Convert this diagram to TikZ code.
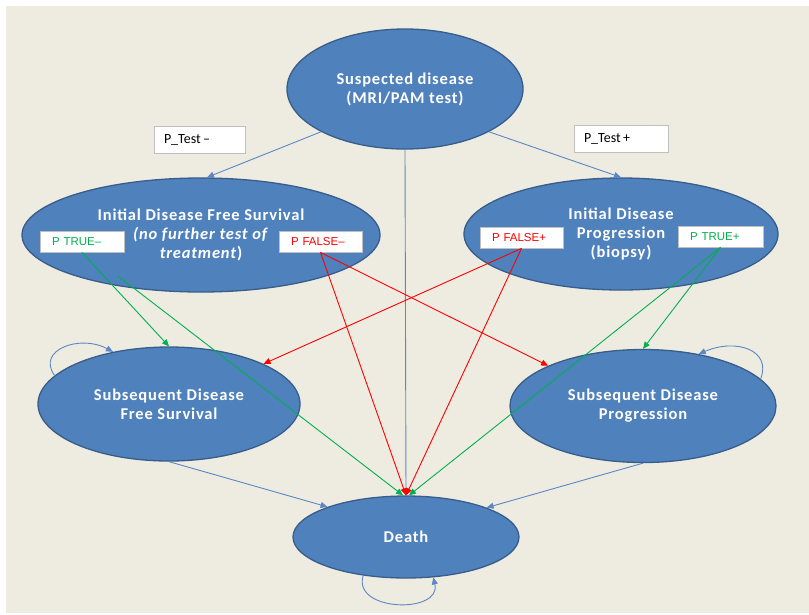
\documentclass[tikz,border=0pt]{standalone}
\usepackage{fontspec}
\setmainfont{Carlito}
\newfontfamily\arialf{Liberation Sans}
\newfontfamily\ellfont[LetterSpace=5]{Carlito}
\usetikzlibrary{shapes.geometric,arrows.meta}
\definecolor{bgc}{HTML}{EEECE1}
\definecolor{ellfill}{HTML}{4F81BD}
\definecolor{elldraw}{HTML}{385D8A}
\definecolor{conn}{HTML}{5B87C3}
\definecolor{grn}{HTML}{00B050}
\definecolor{rd}{HTML}{FF0000}
\definecolor{boxline}{HTML}{BFBFBF}
\tikzset{
  ell/.style={ellipse, fill=ellfill, draw=elldraw, line width=1.3pt, inner sep=0pt,
    text=white, align=center, font=\ellfont\fontsize{16.5}{19}\selectfont\bfseries},
  lbox/.style={rectangle, fill=white, draw=boxline, line width=0.8pt, inner ysep=0pt,
    inner xsep=11pt, align=left, anchor=center},
  tip/.style={-{Triangle[length=7pt,width=6pt]}},
  bconn/.style={tip, draw=conn, line width=0.9pt},
  gconn/.style={tip, draw=grn, line width=0.9pt},
  rconn/.style={tip, draw=rd, line width=0.9pt},
}
\begin{document}
\begin{tikzpicture}[x=1pt,y=-1pt]
\useasboundingbox (0,0) rectangle (809,614);
\fill[white] (0,0) rectangle (809,614);
\fill[bgc] (6,6) rectangle (809,613);

% ellipses
\node[ell, minimum width=236pt, minimum height=120pt] (susp) at (405,89)
  {Suspected disease\\(MRI/PAM test)};
\node[ell, minimum width=358pt, minimum height=114pt] (idfs) at (201,235)
  {Initial Disease Free Survival\\\textit{(no further test of}\\\textit{treatment})};
\node[ell, minimum width=314pt, minimum height=112pt] (idp) at (621,234)
  {Initial Disease\\Progression\\(biopsy)};
\node[ell, minimum width=262pt, minimum height=114pt] (sdfs) at (169,404)
  {Subsequent Disease\\Free Survival};
\node[ell, minimum width=266pt, minimum height=113pt] (sdp) at (643,406)
  {Subsequent Disease\\Progression};
\node[ell, minimum width=226pt, minimum height=82pt] (death) at (406,537)
  {Death};

% label boxes
\node[lbox, minimum width=91pt, minimum height=27pt, text width=71pt, inner xsep=10pt,
  font=\fontsize{14}{16}\selectfont] (ptm) at (199.5,139.5) {P\_Test\,–};
\node[lbox, minimum width=94pt, minimum height=27pt, text width=74pt, inner xsep=10pt,
  font=\fontsize{14}{16}\selectfont] (ptp) at (621,138.5) {P\_Test\,+};
\node[lbox, minimum width=84pt, minimum height=21pt, text width=60pt, inner xsep=12pt,
  text=grn, font=\arialf\fontsize{11.5}{13}\selectfont] (ptrm) at (82,241.5) {P TRUE–};
\node[lbox, minimum width=83pt, minimum height=21pt, text width=59pt, inner xsep=12pt,
  text=rd, font=\arialf\fontsize{11.5}{13}\selectfont] (pfam) at (320.5,241.5) {P FALSE–};
\node[lbox, minimum width=83pt, minimum height=21pt, text width=59pt, inner xsep=12pt,
  text=rd, font=\arialf\fontsize{11.5}{13}\selectfont] (pfap) at (521.5,237.5) {P FALSE+};
\node[lbox, minimum width=85pt, minimum height=21pt, text width=61pt, inner xsep=12pt,
  text=grn, font=\arialf\fontsize{11.5}{13}\selectfont] (ptrp) at (720.5,236.5) {P TRUE+};

\coordinate (g1) at (118,276);

% blue connectors
\draw[bconn] (susp.207) -- (idfs.north -| 207,0);
\draw[bconn] (susp.333) -- (idp.north);
\draw[bconn] (susp.south) -- (death.north);
\draw[bconn] (sdfs.south) -- (death.159);
\draw[bconn] (sdp.south) -- (death.20);

% self loops
\draw[bconn] (sdfs.166) .. controls (36,350) and (80,334) .. (sdfs.137);
\draw[bconn] (sdp.13) .. controls (772,350) and (736,338) .. (sdp.43);
\draw[bconn] (death.222) .. controls (352,612) and (442,614) .. (death.304);

% green connectors
\draw[gconn] (ptrm.south) -- (sdfs.north);
\draw[gconn] (g1) -- ([xshift=-3pt]death.north);
\draw[gconn] (ptrp.south) -- (sdp.north);
\draw[gconn] (ptrp.south) -- ([xshift=3pt]death.north);

% red connectors
\draw[rconn] (pfam.south) -- (death.north);
\draw[rconn] (pfam.south) -- (sdp.157);
\draw[rconn] (pfap.south) -- (sdfs.23);
\draw[rconn] (pfap.south) -- (death.north);
\end{tikzpicture}
\end{document}
